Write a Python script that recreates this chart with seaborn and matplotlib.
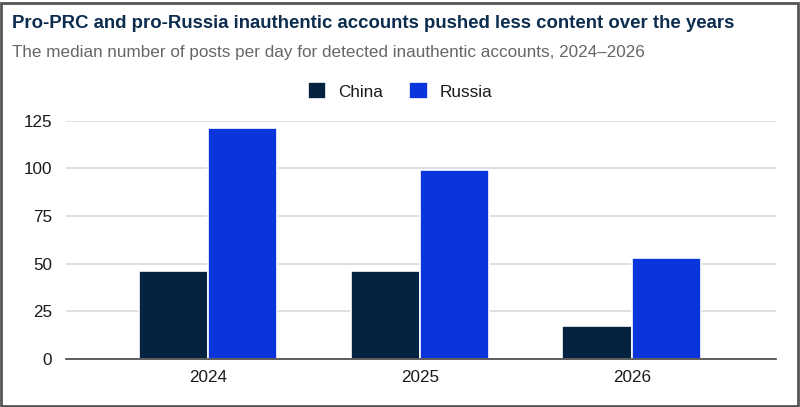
import numpy as np
import pandas as pd
import matplotlib
matplotlib.use("Agg")
import matplotlib.pyplot as plt
import seaborn as sns
from matplotlib.patches import Rectangle

# Datos
anios = ["2024", "2025", "2026"]
series = ["China", "Russia"]
china = [46, 46, 17]
russia = [121, 99, 53]
colores = ["#032340", "#0b35dc"]

df = pd.DataFrame({
    "anio": anios * 2,
    "pais": ["China"] * 3 + ["Russia"] * 3,
    "valor": china + russia,
})

sns.set_style("white")
plt.rcParams["font.family"] = ["Liberation Sans", "DejaVu Sans"]

fig = plt.figure(figsize=(8, 4.07), dpi=100)
ax = fig.add_axes([66 / 800, (407 - 358.7) / 407, 710 / 800, (358.7 - 120.7) / 407])

sns.barplot(
    data=df, x="anio", y="valor", hue="pais", hue_order=series,
    palette=colores, width=0.655, saturation=1, ax=ax,
    edgecolor="white", linewidth=1.2,
)

ax.set_ylim(0, 125)
ax.set_xlim(-0.67, 2.68)
ax.set_yticks([0, 25, 50, 75, 100, 125])
ax.yaxis.grid(True, color="#d9d9d9", linewidth=1.2)
ax.set_axisbelow(True)
for s in ["top", "right", "left"]:
    ax.spines[s].set_visible(False)
ax.spines["bottom"].set_color("#444444")
ax.spines["bottom"].set_linewidth(1.2)
ax.tick_params(axis="both", length=0, labelsize=12.3, colors="#1a1a1a", pad=10)
ax.tick_params(axis="x", pad=8)
ax.set_xlabel("")
ax.set_ylabel("")

# Leyenda centrada en la figura
handles, labels = ax.get_legend_handles_labels()
ax.get_legend().remove()
fig.legend(
    handles, labels, loc="center", bbox_to_anchor=(0.5, 1 - 91 / 407), ncol=2, frameon=False,
    fontsize=12.3, handlelength=1.1, handleheight=1.1, columnspacing=1.5,
    handletextpad=0.7, labelcolor="#1a1a1a",
)

fig.text(12 / 800, 1 - 24 / 407, "Pro-PRC and pro-Russia inauthentic accounts pushed less content over the years",
         fontsize=13.4, fontweight="bold", color="#0d2d4f", va="center", ha="left")
fig.text(12 / 800, 1 - 52 / 407, "The median number of posts per day for detected inauthentic accounts, 2024\u20132026",
         fontsize=12.3, color="#666666", va="center", ha="left")

# Marco exterior
fig.patches.append(Rectangle((1 / 800, 1.5 / 407), 797 / 800, 403 / 407, transform=fig.transFigure,
                             fill=False, edgecolor="#555555", linewidth=2))

fig.savefig("out.png", dpi=100)
